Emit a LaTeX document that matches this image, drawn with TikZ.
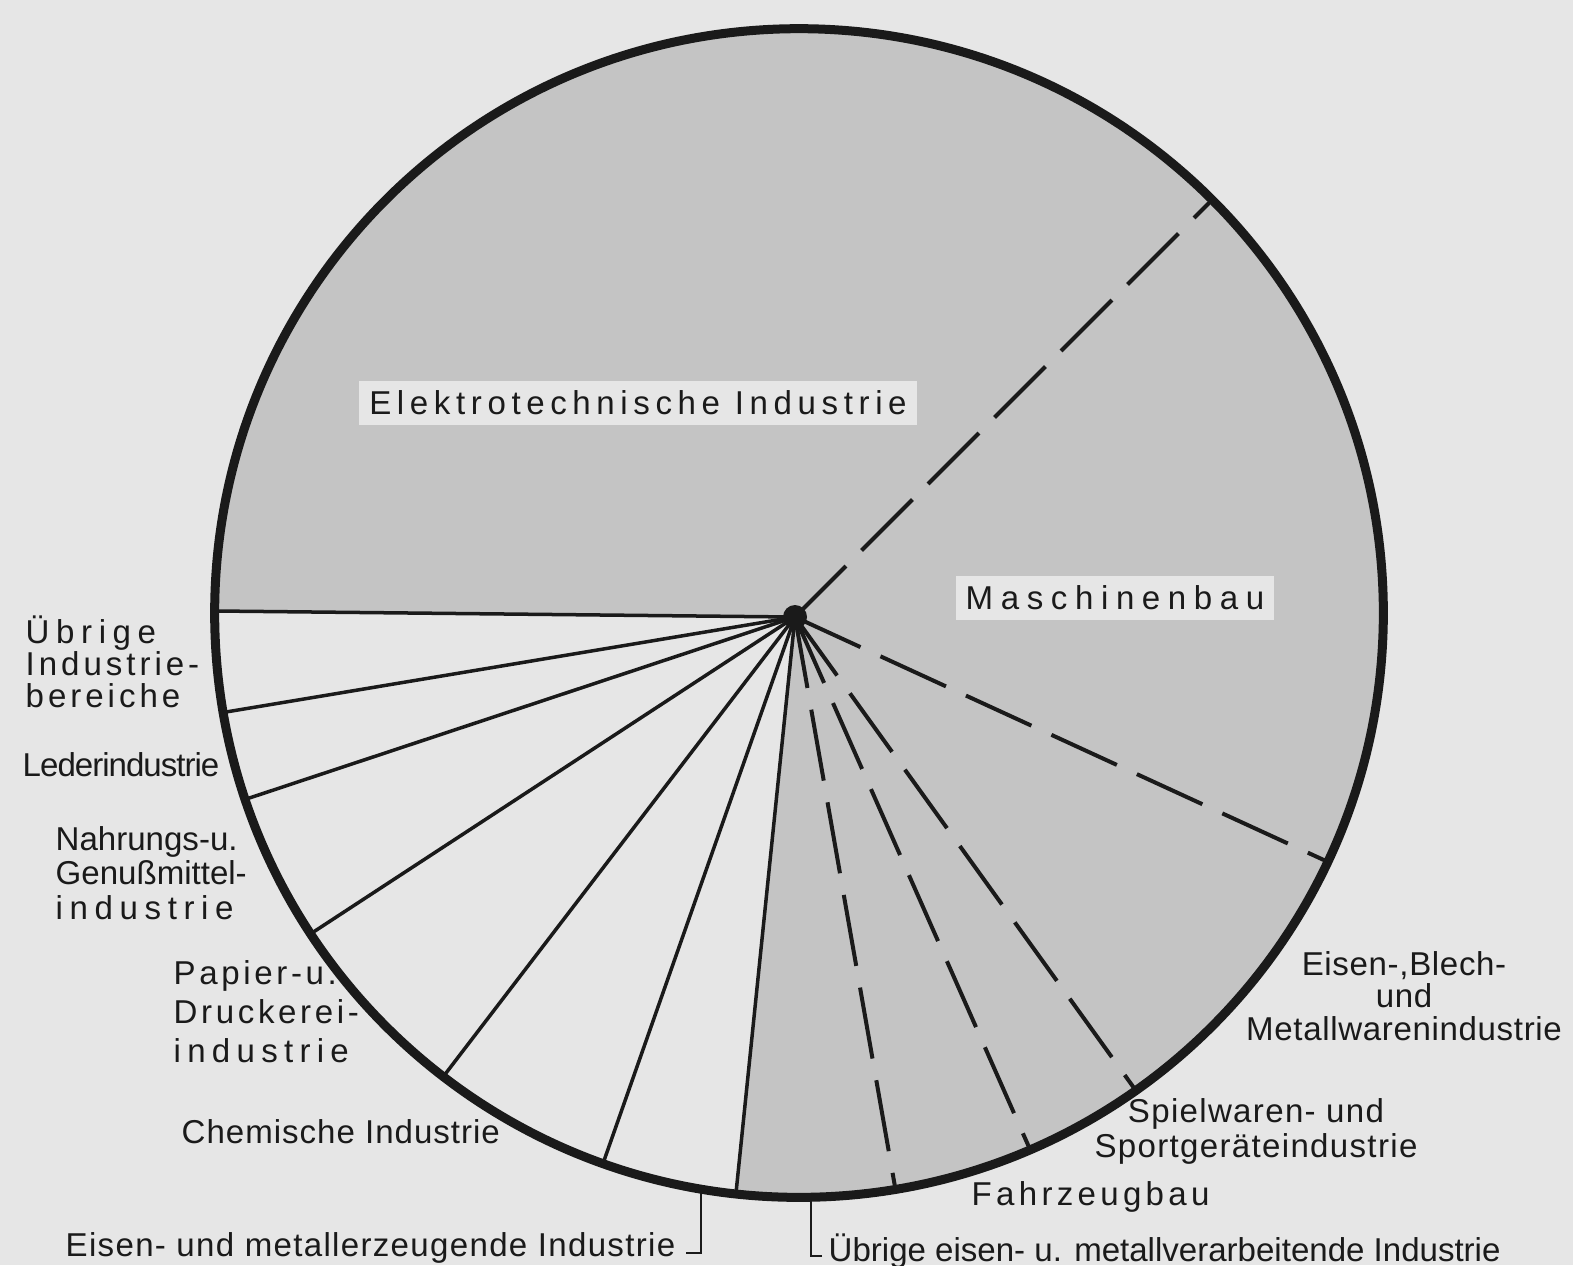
\documentclass[tikz,border=0pt]{standalone}
\usepackage{fontspec}
\setmainfont{Liberation Sans}
\usetikzlibrary{calc}
\definecolor{paper}{HTML}{E6E6E6}
\definecolor{screen}{HTML}{C4C4C4}
\definecolor{ink}{HTML}{1A1A1A}
\newcommand{\tracked}[1]{\addfontfeatures{LetterSpace=#1}}
\newcommand{\lblsize}{\fontsize{9.4}{11}\selectfont}
\tikzset{
  rim/.style={draw=ink, line width=0.09cm},
  spoke/.style={draw=ink, line width=0.035cm},
  dashspoke/.style={draw=ink, line width=0.04cm, dash pattern=on 0.72cm off 0.22cm},
  leader/.style={draw=ink, line width=0.02cm},
  lbl/.style={text=ink, inner sep=0pt},
  boxlbl/.style={lbl, fill=paper, inner xsep=0.1cm, inner ysep=0.1cm},
}

\begin{document}
\begin{tikzpicture}[x=0.01cm, y=-0.01cm]

  \fill[paper, use as bounding box] (0,0) rectangle (1573,1265);

  % Define points
  \coordinate (ctr) at (799,613);
  \coordinate (hub) at (795,617);
  \coordinate (e1) at ($(ctr)+(180.2:584)$);
  \coordinate (e2) at ($(ctr)+(315:584)$);
  \coordinate (e3) at ($(ctr)+(25.2:584)$);
  \coordinate (e4) at ($(ctr)+(54.8:584)$);
  \coordinate (e5) at ($(ctr)+(66.7:584)$);
  \coordinate (e6) at ($(ctr)+(80.5:584)$);
  \coordinate (e7) at ($(ctr)+(96.2:584)$);
  \coordinate (e8) at ($(ctr)+(109.6:584)$);
  \coordinate (e9) at ($(ctr)+(127.5:584)$);
  \coordinate (e10) at ($(ctr)+(146.7:584)$);
  \coordinate (e11) at ($(ctr)+(161.4:584)$);
  \coordinate (e12) at ($(ctr)+(170.2:584)$);
  \coordinate (la) at ($(ctr)+(99.7:584)$);
  \coordinate (lb) at ($(ctr)+(88.8:584)$);

  % Shaded part
  \begin{scope}
    \clip (ctr) circle[radius=5.84cm];
    \fill[screen] (hub) -- ($(hub)!2!(e1)$) -- (-400,-100) -- (1700,-100)
      -- (1700,1500) -- ($(hub)!2!(e7)$) -- cycle;
  \end{scope}

  % Connect nodes
  \draw[spoke] (hub) -- (e1);
  \draw[dashspoke] (hub) -- (e2);
  \draw[dashspoke] (hub) -- (e3);
  \draw[dashspoke] (hub) -- (e4);
  \draw[dashspoke] (hub) -- (e5);
  \draw[dashspoke] (hub) -- (e6);
  \draw[spoke] (hub) -- (e7);
  \draw[spoke] (hub) -- (e8);
  \draw[spoke] (hub) -- (e9);
  \draw[spoke] (hub) -- (e10);
  \draw[spoke] (hub) -- (e11);
  \draw[spoke] (hub) -- (e12);

  \draw[rim] (ctr) circle[radius=5.84cm];
  \fill[ink] (hub) circle[radius=0.12cm];

  % Labels
  \node[boxlbl, font=\lblsize\tracked{17}] (elektro) at (638,403) {Elektrotechnische Industrie};
  \node[boxlbl, font=\lblsize\tracked{23}] (maschinenbau) at (1115,598) {Maschinenbau};

  \node[lbl, anchor=west, align=left, font=\fontsize{9.4}{9.1}\selectfont\tracked{12}] (uebrige) at (25,662)
    {{\tracked{20}Übrige}\\Industrie-\\bereiche};
  \node[lbl, anchor=west, font=\lblsize\tracked{-3}] (leder) at (22,765) {Lederindustrie};
  \node[lbl, anchor=west, align=left, font=\fontsize{9.4}{9.8}\selectfont] (nahrung) at (55,873)
    {Nahrungs-u.\\Genußmittel-\\{\tracked{20}industrie}};
  \node[lbl, anchor=west, align=left, font=\fontsize{9.4}{11.1}\selectfont\tracked{11}] (papier) at (173,1012)
    {Papier-u.\\Druckerei-\\{\tracked{19}industrie}};
  \node[lbl, anchor=west, font=\lblsize\tracked{3}] (chemie) at (181,1132) {Chemische Industrie};
  \node[lbl, anchor=west, font=\lblsize\tracked{4}] (eisenerz) at (65,1248) {Eisen- und metallerzeugende Industrie};
  \node[lbl, anchor=west, font=\lblsize] (uebrigeisen) at (828,1251) {Übrige eisen- u. metallverarbeitende Industrie};
  \node[lbl, anchor=west, font=\lblsize\tracked{13}] (fahrzeug) at (971,1197) {Fahrzeugbau};
  \node[lbl, align=center, font=\fontsize{9.4}{10}\selectfont\tracked{4}] (spielwaren) at (1256,1131)
    {Spielwaren- und\\Sportgeräteindustrie};
  \node[lbl, align=center, font=\fontsize{9.4}{9.3}\selectfont\tracked{2}] (blech) at (1404,996)
    {Eisen-,Blech-\\und\\Metallwarenindustrie};

  % Leaders
  \draw[leader] ([xshift=0.1cm, yshift=-0.05cm]eisenerz.east) -| (la);
  \draw[leader] ([xshift=-0.06cm, yshift=-0.05cm]uebrigeisen.west) -| (lb);

\end{tikzpicture}
\end{document}
